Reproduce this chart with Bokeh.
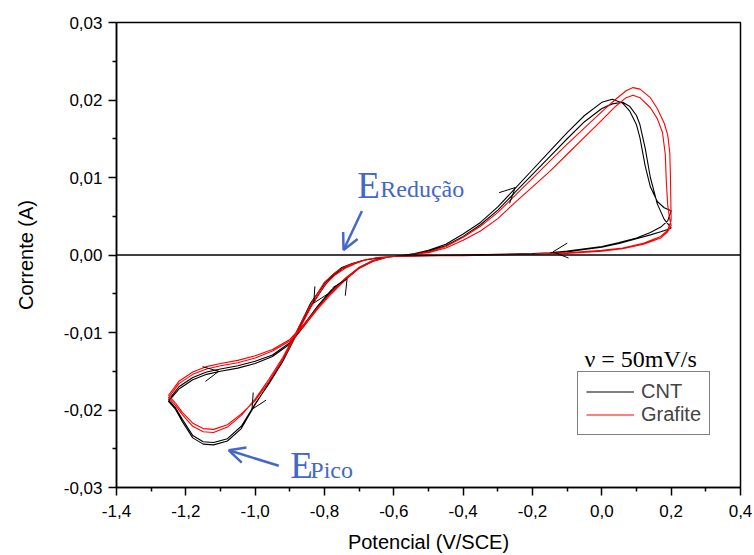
from bokeh.plotting import figure
from bokeh.models import (FixedTicker, CustomJSTickFormatter, Span, Arrow, OpenHead,
                          Legend, LegendItem, Label)
from bokeh.embed import file_html
from bokeh.resources import INLINE

# ---------------- data ----------------
X_TICKS = [-1.4, -1.2, -1.0, -0.8, -0.6, -0.4, -0.2, 0.0, 0.2, 0.4]
X_MINOR = [-1.3, -1.1, -0.9, -0.7, -0.5, -0.3, -0.1, 0.1, 0.3]
Y_TICKS = [-0.03, -0.02, -0.01, 0.0, 0.01, 0.02, 0.03]
Y_MINOR = [-0.025, -0.015, -0.005, 0.005, 0.015, 0.025]

# CNT (black) - anodic sweep and cathodic sweep, two cycles
CNT_V_an = [-1.25, -1.22, -1.18, -1.14, -1.10, -1.05, -1.00, -0.95, -0.90, -0.86,
            -0.82, -0.78, -0.74, -0.70, -0.66, -0.62, -0.58, -0.54, -0.50, -0.45,
            -0.40, -0.35, -0.30, -0.25, -0.20, -0.15, -0.10, -0.05, 0.00, 0.03,
            0.06, 0.08, 0.10, 0.11, 0.125, 0.14, 0.16, 0.18, 0.20]
CNT_I1_an = [-0.0187, -0.0170, -0.0158, -0.0151, -0.0147, -0.0143, -0.0137, -0.0129, -0.0113, -0.0090,
             -0.0066, -0.0045, -0.0031, -0.0016, -0.0007, -0.0003, -0.0001, 0.0002, 0.0006, 0.0014,
             0.0027, 0.0042, 0.0062, 0.0086, 0.0110, 0.0134, 0.0158, 0.0180, 0.0197, 0.0201,
             0.0196, 0.0186, 0.0168, 0.0151, 0.0115, 0.0088, 0.0069, 0.0061, 0.0057]
CNT_I2_an = [-0.0189, -0.0173, -0.0161, -0.0154, -0.0150, -0.0146, -0.0140, -0.0131, -0.0115, -0.0092,
             -0.0068, -0.0047, -0.0032, -0.0017, -0.0008, -0.0003, -0.0001, 0.0001, 0.0005, 0.0012,
             0.0024, 0.0039, 0.0058, 0.0081, 0.0104, 0.0127, 0.0150, 0.0172, 0.0189, 0.0195,
             0.0197, 0.0192, 0.0180, 0.0168, 0.0138, 0.0100, 0.0066, 0.0046, 0.0035]
CNT_V_cat = [0.20, 0.19, 0.17, 0.14, 0.10, 0.05, 0.00, -0.05, -0.10, -0.15,
             -0.20, -0.30, -0.40, -0.50, -0.60, -0.65, -0.69, -0.72, -0.75, -0.78,
             -0.80, -0.84, -0.88, -0.92, -0.96, -1.00, -1.04, -1.08, -1.12, -1.15,
             -1.18, -1.21, -1.23, -1.25]
CNT_I1_cat = [0.0057, 0.0044, 0.0036, 0.0029, 0.0022, 0.0016, 0.0011, 0.0008, 0.0005, 0.0003,
              0.0002, 0.0001, 0.0000, -0.0001, -0.0002, -0.0004, -0.0007, -0.0011, -0.0016, -0.0027,
              -0.0037, -0.0062, -0.0099, -0.0135, -0.0165, -0.0193, -0.0224, -0.0240, -0.0245, -0.0244,
              -0.0236, -0.0215, -0.0199, -0.0189]
CNT_I2_cat = [0.0035, 0.0033, 0.0030, 0.0026, 0.0021, 0.0015, 0.0010, 0.0007, 0.0004, 0.0003,
              0.0002, 0.0001, 0.0000, -0.0001, -0.0002, -0.0004, -0.0007, -0.0012, -0.0018, -0.0029,
              -0.0040, -0.0066, -0.0102, -0.0137, -0.0166, -0.0192, -0.0221, -0.0237, -0.0242, -0.0241,
              -0.0233, -0.0212, -0.0197, -0.0187]

# Grafite (red)
GR_V1_an = [-1.25, -1.22, -1.18, -1.14, -1.10, -1.05, -1.00, -0.95, -0.90, -0.86,
            -0.82, -0.78, -0.74, -0.70, -0.66, -0.62, -0.58, -0.54, -0.50, -0.45,
            -0.40, -0.35, -0.30, -0.25, -0.20, -0.15, -0.10, -0.05, 0.00, 0.04,
            0.07, 0.09, 0.11, 0.14, 0.16, 0.18, 0.19, 0.196, 0.198, 0.199, 0.20]
GR_I1_an = [-0.0181, -0.0163, -0.0151, -0.0144, -0.0140, -0.0136, -0.0130, -0.0122, -0.0109, -0.0090,
            -0.0068, -0.0048, -0.0030, -0.0016, -0.0007, -0.0003, -0.0001, 0.0001, 0.0004, 0.0011,
            0.0023, 0.0037, 0.0055, 0.0077, 0.0099, 0.0121, 0.0143, 0.0164, 0.0185, 0.0201,
            0.0212, 0.0216, 0.0214, 0.0203, 0.0189, 0.0170, 0.0155, 0.0132, 0.0100, 0.0070, 0.0045]
GR_V2_an = [-1.25, -1.22, -1.18, -1.14, -1.10, -1.05, -1.00, -0.95, -0.90, -0.86,
            -0.82, -0.78, -0.74, -0.70, -0.66, -0.62, -0.58, -0.54, -0.50, -0.45,
            -0.40, -0.35, -0.30, -0.25, -0.20, -0.15, -0.10, -0.05, 0.00, 0.04,
            0.07, 0.09, 0.11, 0.14, 0.16, 0.175, 0.183, 0.186, 0.19, 0.195, 0.20]
GR_I2_an = [-0.0184, -0.0166, -0.0154, -0.0147, -0.0143, -0.0139, -0.0133, -0.0124, -0.0111, -0.0092,
            -0.0070, -0.0050, -0.0032, -0.0017, -0.0008, -0.0003, -0.0001, 0.0001, 0.0003, 0.0009,
            0.0019, 0.0031, 0.0047, 0.0068, 0.0088, 0.0108, 0.0130, 0.0152, 0.0174, 0.0192,
            0.0203, 0.0206, 0.0203, 0.0190, 0.0176, 0.0158, 0.0130, 0.0095, 0.0065, 0.0048, 0.0038]
GR_V_cat = [0.20, 0.19, 0.17, 0.12, 0.06, 0.00, -0.10, -0.20, -0.30, -0.40,
            -0.50, -0.60, -0.64, -0.68, -0.71, -0.74, -0.77, -0.80, -0.84, -0.88,
            -0.92, -0.96, -1.00, -1.04, -1.08, -1.12, -1.15, -1.18, -1.21, -1.23, -1.25]
GR_I1_cat = [0.0045, 0.0032, 0.0024, 0.0015, 0.0009, 0.0006, 0.0003, 0.0001, 0.0000, -0.0001,
             -0.0001, -0.0002, -0.0003, -0.0006, -0.0010, -0.0015, -0.0023, -0.0035, -0.0064, -0.0098,
             -0.0132, -0.0160, -0.0186, -0.0207, -0.0222, -0.0229, -0.0228, -0.0221, -0.0206, -0.0194, -0.0184]
GR_I2_cat = [0.0038, 0.0030, 0.0022, 0.0014, 0.0008, 0.0005, 0.0002, 0.0001, 0.0000, -0.0001,
             -0.0001, -0.0002, -0.0003, -0.0006, -0.0011, -0.0017, -0.0026, -0.0039, -0.0068, -0.0102,
             -0.0135, -0.0163, -0.0188, -0.0205, -0.0219, -0.0225, -0.0224, -0.0217, -0.0203, -0.0191, -0.0181]

# scan-direction marks on the CNT curve: (tip V, tip I, tail V, tail I)
DIRECTION_MARKS = [
    (-0.141, 0.0004, -0.09, 0.0006),
    (-0.25, 0.0087, -0.28, 0.0074),
    (-1.105, -0.0150, -1.14, -0.0153),
    (-1.009, -0.0199, -0.98, -0.0177),
    (-0.831, -0.0062, -0.81, -0.0046),
    (-0.735, -0.0031, -0.755, -0.0045),
]

SANS = "Liberation Sans"
SERIF = "Liberation Serif"
BLUE = "#4468C8"

p = figure(width=754, height=555, x_range=(-1.4, 0.4), y_range=(-0.03, 0.03),
           output_backend="svg", toolbar_location=None,
           min_border_left=116, min_border_right=14, min_border_top=22, min_border_bottom=68,
           background_fill_color="white", border_fill_color="white")
p.grid.visible = False
p.outline_line_color = "black"
p.outline_line_width = 1.5

p.xaxis.ticker = FixedTicker(ticks=X_TICKS, minor_ticks=X_MINOR)
p.yaxis.ticker = FixedTicker(ticks=Y_TICKS, minor_ticks=Y_MINOR)
p.xaxis.formatter = CustomJSTickFormatter(code="return tick.toFixed(1).replace('.', ',').replace('-0,0','0,0')")
p.yaxis.formatter = CustomJSTickFormatter(code="var s = tick.toFixed(2).replace('.', ','); return s == '-0,00' ? '0,00' : s;")
for ax in (p.xaxis[0], p.yaxis[0]):
    ax.axis_line_width = 1.5
    ax.major_tick_line_width = 1.5
    ax.minor_tick_line_width = 1.5
    ax.major_tick_in = 0
    ax.major_tick_out = 8
    ax.minor_tick_in = 0
    ax.minor_tick_out = 4
    ax.major_label_text_font = SANS
    ax.major_label_text_font_size = "17px"
    ax.major_label_text_color = "black"
    ax.axis_label_text_font = SANS
    ax.axis_label_text_font_size = "20px"
    ax.axis_label_text_font_style = "normal"
    ax.axis_label_text_color = "black"
p.xaxis.axis_label = "Potencial (V/SCE)"
p.yaxis.axis_label = "Corrente (A)"
p.xaxis.major_label_standoff = 9
p.xaxis.axis_label_standoff = 11
p.yaxis.major_label_standoff = 6
p.yaxis.axis_label_standoff = 24

p.add_layout(Span(location=0, dimension="width", line_color="black", line_width=1.5))

cnt_x = CNT_V_an + CNT_V_cat + CNT_V_an + CNT_V_cat
cnt_y = CNT_I1_an + CNT_I1_cat + CNT_I2_an + CNT_I2_cat
gr_x = GR_V1_an + GR_V_cat + GR_V2_an + GR_V_cat
gr_y = GR_I1_an + GR_I1_cat + GR_I2_an + GR_I2_cat

r_cnt = p.line(cnt_x, cnt_y, line_color="black", line_width=1.1)
r_gr = p.line(gr_x, gr_y, line_color="#FF0000", line_width=1.1)

for tv, ti, sv, si in DIRECTION_MARKS:
    p.add_layout(Arrow(x_start=sv, y_start=si, x_end=tv, y_end=ti, line_alpha=0,
                       end=OpenHead(size=15, line_width=1, line_color="black")))

# blue annotations
p.add_layout(Arrow(x_start=-0.692, y_start=0.00568, x_end=-0.745, y_end=0.00065,
                   line_color=BLUE, line_width=2.5,
                   end=OpenHead(size=16, line_width=2.5, line_color=BLUE)))
p.add_layout(Arrow(x_start=-0.932, y_start=-0.0272, x_end=-1.076, y_end=-0.0252,
                   line_color=BLUE, line_width=2.5,
                   end=OpenHead(size=16, line_width=2.5, line_color=BLUE)))

def lbl(x, y, text, size, color, font, align="left"):
    p.add_layout(Label(x=x, y=y, text=text, text_font=font, text_font_size=size,
                       text_color=color, text_align=align, text_baseline="alphabetic"))

lbl(-0.7055, 0.00903, "E", "37px", BLUE, SERIF)
lbl(-0.6392, 0.00852, "Redução", "24px", BLUE, SERIF)
lbl(-0.8986, -0.0271, "E", "37px", BLUE, SERIF)
lbl(-0.8409, -0.02774, "Pico", "24px", BLUE, SERIF)
lbl(0.112, -0.01345, "ν = 50mV/s", "24px", "black", SERIF, align="center")

legend = Legend(items=[LegendItem(label="CNT", renderers=[r_cnt]),
                       LegendItem(label="Grafite", renderers=[r_gr])],
                location=(461, 52), margin=0, padding=8, spacing=0,
                glyph_width=48, glyph_height=23, label_height=23, label_standoff=7,
                label_text_font=SANS, label_text_font_size="20px",
                border_line_color="black", border_line_width=1.2,
                background_fill_color="white", background_fill_alpha=1)
p.add_layout(legend)

open("out.html", "w").write(file_html(p, INLINE))
